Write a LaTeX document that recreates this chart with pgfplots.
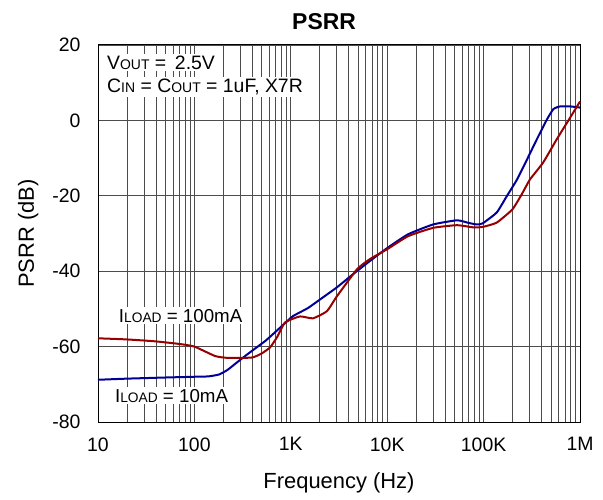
\documentclass[border=0pt]{standalone}
\usepackage{pgfplots}
\pgfplotsset{compat=1.18}
\usepackage{fontspec}
\setmainfont{Liberation Sans}
\definecolor{bl}{RGB}{0,0,150}
\definecolor{rd}{RGB}{150,0,0}
\begin{document}
\begin{tikzpicture}
\begin{axis}[name=ax, xmode=log, scale only axis, width=482bp, height=377bp,
  xmin=10, xmax=1e6, ymin=-80, ymax=20,
  ytick={-80,-60,-40,-20,0,20}, yticklabels={-80,-60,-40,-20,0,20},
  xtick={10,100,1000,10000,100000,1000000}, xticklabels={10,100,1K,10K,100K,1M},
  grid=both, grid style={draw=black!70, line width=0.9bp},
  minor grid style={draw=black!70, line width=0.9bp},
  major tick length=0, minor tick length=0,
  axis line style={black, line width=1bp},
  tick label style={font=\fontsize{19.5}{20}\selectfont},
  xticklabel style={yshift=-12bp},
  yticklabel style={xshift=-14bp},
  clip=false]
\addplot[bl, line width=2bp, smooth, tension=0.3] coordinates {
(10,-68.8) (20,-68.5) (50,-68.2) (100,-68.0) (140,-67.9) (180,-67.4) (220,-66.2) (270,-64.4) (340,-62.4) (427,-60.5) (550,-58.4) (700,-56.0) (870,-53.8) (1055,-51.9) (1500,-49.8) (2010,-47.5) (3000,-44.3) (4420,-40.8) (6610,-37.3) (9950,-33.9) (16500,-30.2) (30000,-27.6) (53000,-26.5) (70000,-27.2) (85000,-27.6) (98000,-27.3) (137000,-24.4) (174000,-20.1) (222000,-15.7) (283000,-10.3) (357000,-5.0) (455000,0.3) (530000,3.0) (620000,3.7) (800000,3.7) (1000000,3.4)};
\addplot[rd, line width=2bp, smooth, tension=0.3] coordinates {
(10,-57.8) (20,-58.1) (39,-58.6) (70,-59.3) (100,-60.0) (164,-62.5) (223,-63.0) (395,-62.9) (500,-61.8) (610,-60.2) (720,-57.5) (871,-53.6) (1245,-52.0) (1700,-52.5) (2370,-50.6) (3000,-46.7) (4860,-39.5) (6610,-36.8) (9950,-34.2) (16500,-30.7) (30000,-28.5) (53000,-27.8) (80000,-28.4) (100000,-28.2) (137000,-27.1) (199000,-23.6) (250000,-19.5) (302000,-15.7) (414000,-11.2) (574000,-5.0) (780000,0.5) (1000000,5.0)};
\node[anchor=base west, fill=white, inner sep=2bp, font=\fontsize{19.5}{20}\selectfont] at (axis description cs:0.0145,0.936) {V{\fontsize{14}{14}\selectfont OUT} = \,2.5V};
\node[anchor=base west, fill=white, inner sep=2bp, font=\fontsize{19.5}{20}\selectfont] at (axis description cs:0.0145,0.875) {C{\fontsize{14}{14}\selectfont IN} = C{\fontsize{14}{14}\selectfont OUT} = 1uF, X7R};
\node[anchor=base west, fill=white, inner sep=2bp, font=\fontsize{18.8}{19}\selectfont] at (axis description cs:0.039,0.265) {I{\fontsize{13.8}{14}\selectfont LOAD} = 100mA};
\node[anchor=base west, fill=white, inner sep=2bp, font=\fontsize{18.8}{19}\selectfont] at (axis description cs:0.031,0.053) {I{\fontsize{13.8}{14}\selectfont LOAD} = 10mA};
\node[font=\bfseries\fontsize{23}{24}\selectfont] at (axis description cs:0.469,1.061) {PSRR};
\node[font=\fontsize{22}{24}\selectfont] at (axis description cs:0.5,-0.162) {Frequency (Hz)};
\node[font=\fontsize{22}{24}\selectfont, rotate=90] at (axis description cs:-0.145,0.5) {PSRR (dB)};
\end{axis}
\pgfresetboundingbox
\path[use as bounding box] ([shift={(-98bp,-78bp)}]ax.south west) rectangle ([shift={(23bp,45bp)}]ax.north east);
\end{tikzpicture}
\end{document}
